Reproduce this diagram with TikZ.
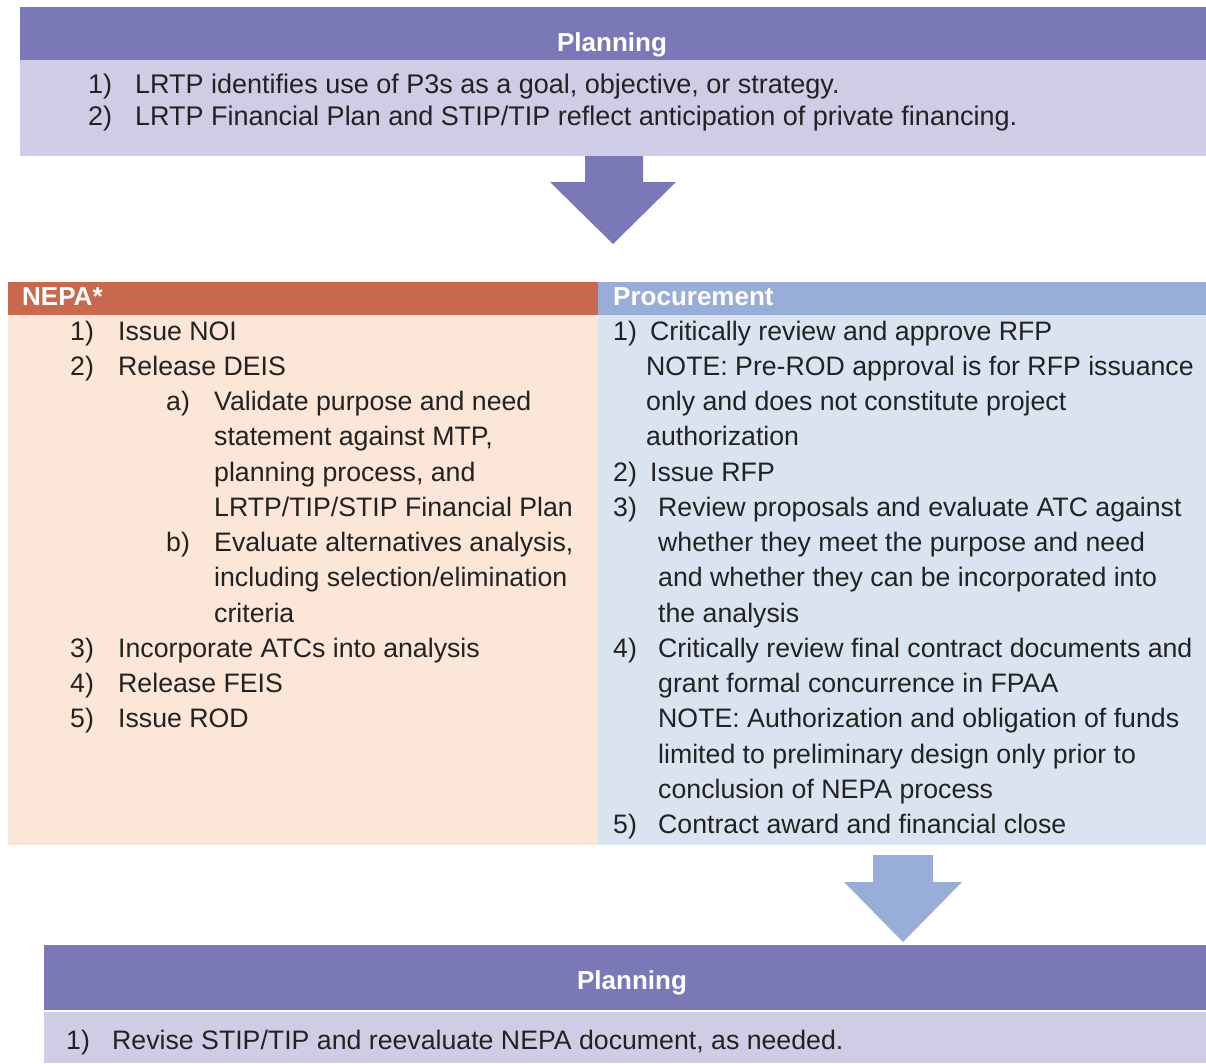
\documentclass[tikz,border=0pt]{standalone}
\usepackage{fontspec}
\setmainfont{Liberation Sans}
\definecolor{hdpurple}{HTML}{7B78B8}
\definecolor{lav}{HTML}{CFCCE6}
\definecolor{nepahd}{HTML}{C8694D}
\definecolor{peach}{HTML}{FCE6D8}
\definecolor{prochd}{HTML}{98ADD7}
\definecolor{lblue}{HTML}{DAE3F0}
\definecolor{ink}{HTML}{222222}
\begin{document}
\begin{tikzpicture}[x=1pt,y=-1pt,
  txt/.style={inner sep=0pt,anchor=base west,font=\fontsize{26.7}{30}\selectfont,text=ink},
  toptxt/.style={txt,font=\fontsize{27}{30}\selectfont},
  hd/.style={inner sep=0pt,font=\fontsize{26}{30}\selectfont\bfseries,text=white}]
\useasboundingbox (0,0) rectangle (1206,1063);
% top planning
\fill[hdpurple] (20,7) rectangle (1206,60);
\fill[lav] (20,60) rectangle (1206,156);
\node[hd,anchor=base] (p1h) at (612,51) {Planning};
\node[toptxt] (p1a) at (88,93) {1)};
\node[toptxt] (p1at) at (135,93) {LRTP identifies use of P3s as a goal, objective, or strategy.};
\node[toptxt] (p1b) at (88,125) {2)};
\node[toptxt] (p1bt) at (135,125) {LRTP Financial Plan and STIP/TIP reflect anticipation of private financing.};
% arrow 1
\fill[hdpurple] (585,156) -- (643,156) -- (643,182) -- (676,182) -- (613,244) -- (550,182) -- (585,182) -- cycle;
% NEPA
\fill[nepahd] (8,282) rectangle (598,315);
\fill[peach] (8,315) rectangle (598,845);
\node[hd,anchor=base west] (nh) at (22,305) {NEPA*};
% Procurement
\fill[prochd] (598,282) rectangle (1206,315);
\fill[lblue] (598,315) rectangle (1206,845);
\node[hd,anchor=base west] (ph) at (613,305) {Procurement};
% NEPA items
\node[txt] (n1) at (70,{340+35.25*0}) {1)};
\node[txt] (n1t) at (118,{340+35.25*0}) {Issue NOI};
\node[txt] (n2) at (70,{340+35.25*1}) {2)};
\node[txt] (n2t) at (118,{340+35.25*1}) {Release DEIS};
\node[txt] (na) at (166,{340+35.25*2}) {a)};
\node[txt] (nat1) at (214,{340+35.25*2}) {Validate purpose and need};
\node[txt] (nat2) at (214,{340+35.25*3}) {statement against MTP,};
\node[txt] (nat3) at (214,{340+35.25*4}) {planning process, and};
\node[txt] (nat4) at (214,{340+35.25*5}) {LRTP/TIP/STIP Financial Plan};
\node[txt] (nb) at (166,{340+35.25*6}) {b)};
\node[txt] (nbt1) at (214,{340+35.25*6}) {Evaluate alternatives analysis,};
\node[txt] (nbt2) at (214,{340+35.25*7}) {including selection/elimination};
\node[txt] (nbt3) at (214,{340+35.25*8}) {criteria};
\node[txt] (n3) at (70,{340+35.25*9}) {3)};
\node[txt] (n3t) at (118,{340+35.25*9}) {Incorporate ATCs into analysis};
\node[txt] (n4) at (70,{340+35.25*10}) {4)};
\node[txt] (n4t) at (118,{340+35.25*10}) {Release FEIS};
\node[txt] (n5) at (70,{340+35.25*11}) {5)};
\node[txt] (n5t) at (118,{340+35.25*11}) {Issue ROD};
% Procurement items
\node[txt] (q1) at (613,{340+35.25*0}) {1)};
\node[txt] (q1t) at (650,{340+35.25*0}) {Critically review and approve RFP};
\node[txt] (q1n1) at (646,{340+35.25*1}) {NOTE: Pre-ROD approval is for RFP issuance};
\node[txt] (q1n2) at (646,{340+35.25*2}) {only and does not constitute project};
\node[txt] (q1n3) at (646,{340+35.25*3}) {authorization};
\node[txt] (q2) at (613,{340+35.25*4}) {2)};
\node[txt] (q2t) at (650,{340+35.25*4}) {Issue RFP};
\node[txt] (q3) at (613,{340+35.25*5}) {3)};
\node[txt] (q3t1) at (658,{340+35.25*5}) {Review proposals and evaluate ATC against};
\node[txt] (q3t2) at (658,{340+35.25*6}) {whether they meet the purpose and need};
\node[txt] (q3t3) at (658,{340+35.25*7}) {and whether they can be incorporated into};
\node[txt] (q3t4) at (658,{340+35.25*8}) {the analysis};
\node[txt] (q4) at (613,{340+35.25*9}) {4)};
\node[txt] (q4t1) at (658,{340+35.25*9}) {Critically review final contract documents and};
\node[txt] (q4t2) at (658,{340+35.25*10}) {grant formal concurrence in FPAA};
\node[txt] (q4t3) at (658,{340+35.25*11}) {NOTE: Authorization and obligation of funds};
\node[txt] (q4t4) at (658,{340+35.25*12}) {limited to preliminary design only prior to};
\node[txt] (q4t5) at (658,{340+35.25*13}) {conclusion of NEPA process};
\node[txt] (q5) at (613,{340+35.25*14}) {5)};
\node[txt] (q5t) at (658,{340+35.25*14}) {Contract award and financial close};
% arrow 2
\fill[prochd] (873,855) -- (933,855) -- (933,882) -- (962,882) -- (903,942) -- (844,882) -- (873,882) -- cycle;
% bottom planning
\fill[hdpurple] (44,945) rectangle (1206,1010);
\fill[lav] (44,1012) rectangle (1206,1063);
\node[hd,anchor=base] (p2h) at (632,989) {Planning};
\node[txt] (p2a) at (66,1049) {1)};
\node[txt] (p2at) at (112,1049) {Revise STIP/TIP and reevaluate NEPA document, as needed.};
\end{tikzpicture}
\end{document}
